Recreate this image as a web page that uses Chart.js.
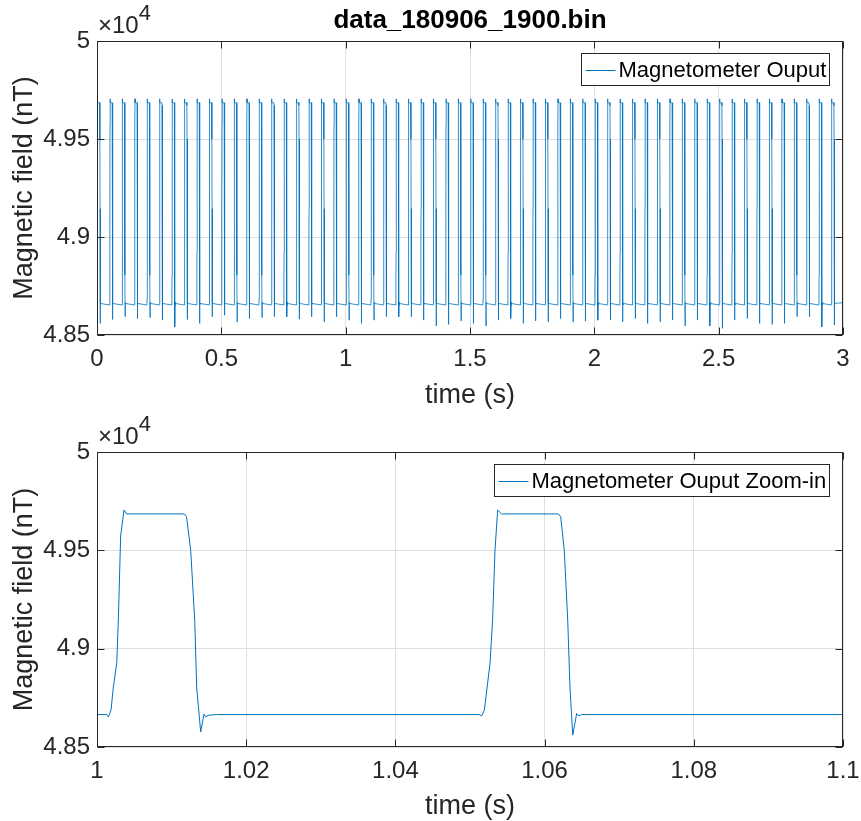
<!DOCTYPE html>
<html>
<head>
<meta charset="utf-8">
<script src="https://cdn.jsdelivr.net/npm/chart.js@4"></script>
<style>
  body { margin: 0; background: #fff; }
  #wrap { position: relative; width: 861px; height: 821px; }
  canvas { position: absolute; left: 0; }
</style>
</head>
<body>
<div id="wrap">
  <canvas id="full" width="861" height="410" style="top:0"></canvas>
  <canvas id="zoom" width="861" height="411" style="top:410px"></canvas>
</div>
<script>
// Magnetometer record data_180906_1900.bin, field in nT

// start time (s) of each excitation pulse over the 3 s record
const pulseOnsets = [
  0.0009, 0.0510, 0.1010, 0.1511, 0.2011, 0.2511, 0.3012, 0.3512, 0.4013, 0.4513,
  0.5013, 0.5514, 0.6014, 0.6515, 0.7015, 0.7515, 0.8016, 0.8516, 0.9017, 0.9517,
  1.0017, 1.0518, 1.1018, 1.1519, 1.2019, 1.2519, 1.3020, 1.3520, 1.4021, 1.4521,
  1.5021, 1.5522, 1.6022, 1.6523, 1.7023, 1.7523, 1.8024, 1.8524, 1.9025, 1.9525,
  2.0025, 2.0526, 2.1026, 2.1527, 2.2027, 2.2527, 2.3028, 2.3528, 2.4029, 2.4529,
  2.5029, 2.5530, 2.6030, 2.6531, 2.7031, 2.7531, 2.8032, 2.8532, 2.9033, 2.9533
];
// undershoot minimum after each pulse (nT)
const pulseDips = [
  48559, 48579, 48593, 48584, 48589, 48576, 48542, 48579, 48559, 48593,
  48601, 48567, 48584, 48589, 48593, 48593, 48581, 48593, 48567, 48593,
  48576, 48559, 48576, 48593, 48593, 48593, 48576, 48546, 48554, 48572,
  48559, 48546, 48576, 48584, 48559, 48572, 48567, 48584, 48567, 48571,
  48576, 48576, 48567, 48584, 48559, 48567, 48576, 48546, 48576, 48546,
  48534, 48576, 48584, 48559, 48554, 48559, 48593, 48593, 48542, 48551
];
// shape of one pulse: time after onset (s) and field (nT); null marks the dip
const pulseShapeDt = [-0.0002, 0.0001, 0.0005, 0.0009, 0.0011, 0.0014, 0.0019, 0.0022,
  0.0100, 0.0103, 0.0108, 0.0114, 0.0116, 0.0122, 0.0126, 0.0128, 0.0132];
const pulseShapeField = [48653, 48687, 48805, 48924, 49145, 49573, 49705, 49685,
  49685, 49671, 49500, 49145, 48805, null, 48667, 48653, 48661];
const baseField = 48665;

// 1.0 - 1.1 s detail
const zoomTime = [
  1.0000, 1.0013, 1.00152, 1.00188, 1.00219, 1.00264, 1.00286, 1.00317, 1.00362, 1.00398,
  1.0117, 1.0120, 1.01256, 1.0131, 1.01336, 1.0139, 1.01434, 1.01457, 1.0149, 1.0160,
  1.0512, 1.05157, 1.05192, 1.05268, 1.05303, 1.05335, 1.05371, 1.05424,
  1.06184, 1.06216, 1.06264, 1.0631, 1.0634, 1.06377, 1.0643, 1.0646, 1.06497, 1.1000
];
const zoomField = [
  48665, 48665, 48653, 48687, 48805, 48924, 49145, 49573, 49705, 49685,
  49685, 49671, 49500, 49145, 48805, 48576, 48667, 48653, 48661, 48665,
  48665, 48658, 48687, 48924, 49145, 49500, 49705, 49685,
  49685, 49671, 49500, 49145, 48805, 48560, 48670, 48658, 48665, 48665
];

const lineColor = '#0072BD';
const axisColor = '#262626';
const gridColor = '#dfdfdf';
const fontFamily = '"Liberation Sans", Arial, Helvetica, sans-serif';

Chart.defaults.font.family = fontFamily;
Chart.defaults.color = axisColor;

// full record: one pulse shape per onset, dip taken from the list
let fullPoints = [{ x: 0, y: baseField }];
pulseOnsets.forEach((t0, k) => {
  pulseShapeDt.forEach((dt, i) => {
    let v = pulseShapeField[i] === null ? pulseDips[k] : pulseShapeField[i];
    fullPoints.push({ x: +(t0 + dt).toFixed(5), y: v });
  });
});
fullPoints.push({ x: 3, y: baseField });

let zoomPoints = zoomTime.map((t, i) => ({ x: t, y: zoomField[i] }));

function fmt(v) {
  return String(parseFloat(v.toFixed(3)));
}

/*
*   Box, inward ticks, x10^4 exponent and in-plot legend
*/
const matlabAxes = {
  id: 'matlabAxes',
  afterDatasetsDraw(chart, args, opts) {
    const ctx = chart.ctx;
    const a = chart.chartArea;
    const xs = chart.scales.x, ys = chart.scales.y;
    const L = Math.round(a.left) + 0.5, R = Math.round(a.right) - 0.5;
    const T = Math.round(a.top) + 0.5, B = Math.round(a.bottom) - 0.5;
    const tl = 7;
    ctx.save();
    ctx.strokeStyle = axisColor;
    ctx.lineWidth = 1;
    ctx.beginPath();
    xs.ticks.forEach(t => {
      const px = Math.round(xs.getPixelForValue(t.value)) + 0.5;
      ctx.moveTo(px, B); ctx.lineTo(px, B - tl);
      ctx.moveTo(px, T); ctx.lineTo(px, T + tl);
    });
    ys.ticks.forEach(t => {
      const py = Math.round(ys.getPixelForValue(t.value)) + 0.5;
      ctx.moveTo(L, py); ctx.lineTo(L + tl, py);
      ctx.moveTo(R, py); ctx.lineTo(R - tl, py);
    });
    ctx.stroke();
    ctx.strokeRect(L, T, R - L, B - T);

    // exponent above the y axis
    ctx.fillStyle = axisColor;
    ctx.textBaseline = 'alphabetic';
    ctx.textAlign = 'left';
    ctx.font = '24px ' + fontFamily;
    ctx.fillText('\u00d710', a.left + 1, a.top - 8);
    const w = ctx.measureText('\u00d710').width;
    ctx.font = '22px ' + fontFamily;
    ctx.fillText('4', a.left + 1 + w, a.top - 21);

    // legend
    ctx.font = '22px ' + fontFamily;
    const tw = ctx.measureText(opts.label).width;
    const bh = 32, right = R - 13;
    const left = Math.round(right - (4 + 30 + 3 + tw + 4)) + 0.5;
    const top = T + 12;
    ctx.fillStyle = '#fff';
    ctx.fillRect(left, top, right - left, bh);
    ctx.strokeRect(left, top, right - left, bh);
    const my = Math.round(top + bh / 2) + 0.5;
    ctx.strokeStyle = lineColor;
    ctx.beginPath();
    ctx.moveTo(left + 4, my); ctx.lineTo(left + 34, my);
    ctx.stroke();
    ctx.fillStyle = '#000';
    ctx.textBaseline = 'middle';
    ctx.fillText(opts.label, left + 37, top + bh / 2 + 1);
    ctx.restore();
  }
};

function makeChart(id, points, xRange, step, label, titleText, lineW) {
  let ctx = document.getElementById(id).getContext('2d');
  return new Chart(ctx, {
    type: 'line',
    data: {
      datasets: [{
        label: label,
        data: points,
        borderColor: lineColor,
        borderWidth: lineW,
        pointRadius: 0,
        tension: 0,
        fill: false
      }]
    },
    options: {
      responsive: false,
      animation: false,
      devicePixelRatio: 1,
      layout: { padding: { left: 0, right: 18, top: titleText ? 0 : 42, bottom: 0 } },
      plugins: {
        legend: { display: false },
        tooltip: { enabled: false },
        title: {
          display: !!titleText,
          text: titleText,
          fullSize: false,
          color: '#000',
          font: { size: 26, weight: 'bold', lineHeight: 1.2 },
          padding: { top: 5, bottom: 4.8 }
        },
        matlabAxes: { label: label }
      },
      scales: {
        x: {
          type: 'linear',
          min: xRange[0],
          max: xRange[1],
          grid: { color: gridColor, drawTicks: false },
          border: { display: false },
          ticks: {
            stepSize: step,
            padding: 10,
            maxRotation: 0,
            autoSkip: false,
            color: axisColor,
            font: { size: 24 },
            callback: v => fmt(v)
          },
          title: {
            display: true,
            text: 'time (s)',
            color: axisColor,
            font: { size: 27 },
            padding: { top: 0, bottom: -2 }
          },
          afterFit: s => {
            s.height = titleText ? 75 : 74;
            // end labels may overhang the plot edges
            s.paddingLeft = 0;
            s.paddingRight = 0;
          }
        },
        y: {
          min: 48500,
          max: 50000,
          grid: { color: gridColor, drawTicks: false },
          border: { display: false },
          ticks: {
            stepSize: 500,
            padding: 7,
            color: axisColor,
            font: { size: 24 },
            callback: v => fmt(v / 1e4)
          },
          title: {
            display: true,
            text: 'Magnetic field (nT)',
            color: axisColor,
            font: { size: 27 },
            padding: { top: 8, bottom: 0 }
          },
          afterFit: s => { s.width = 97; }
        }
      }
    },
    plugins: [matlabAxes]
  });
}

makeChart('full', fullPoints, [0, 3], 0.5, 'Magnetometer Ouput', 'data_180906_1900.bin', 0.8);
makeChart('zoom', zoomPoints, [1, 1.1], 0.02, 'Magnetometer Ouput Zoom-in', '', 1);
</script>
</body>
</html>
